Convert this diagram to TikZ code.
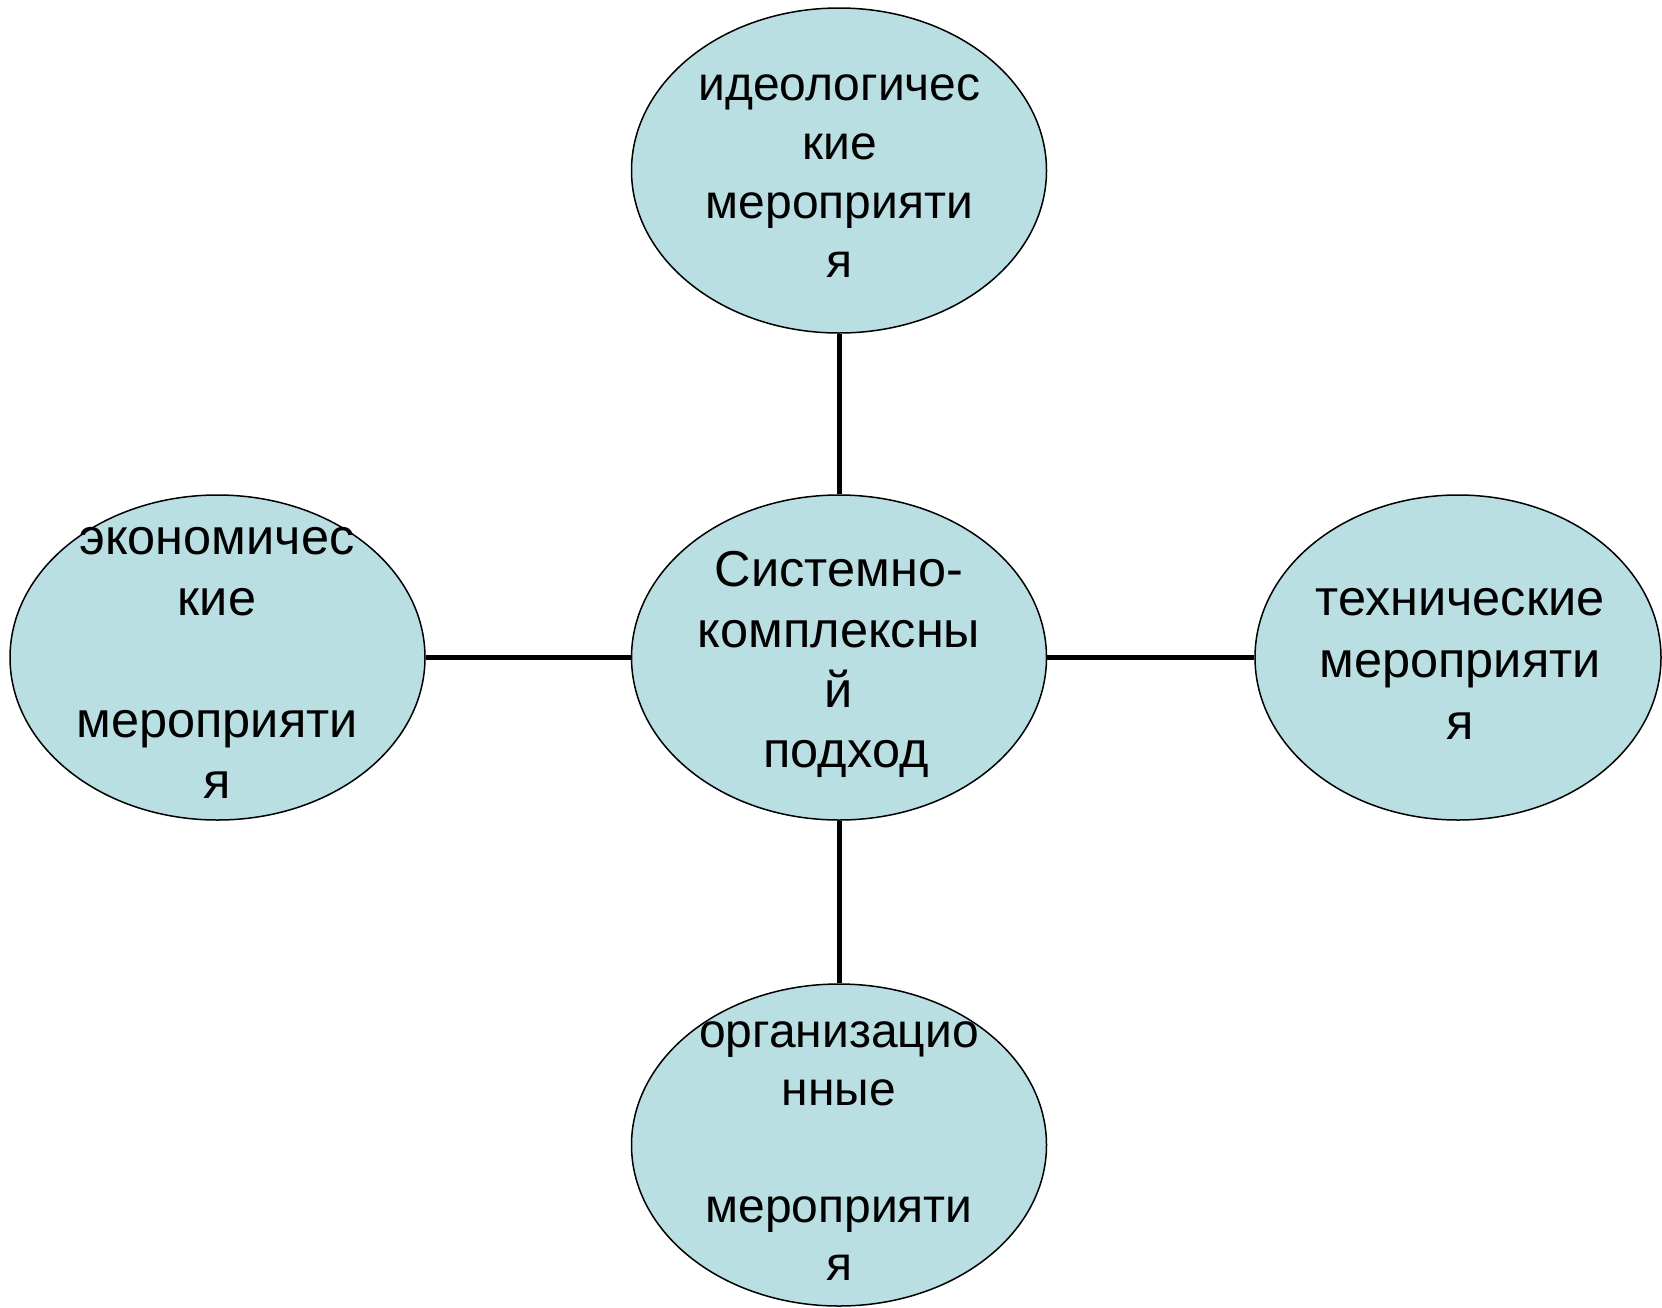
\documentclass[tikz,border=0pt]{standalone}
\usepackage{fontspec}
\setmainfont{Liberation Sans}
\definecolor{ellfill}{RGB}{185,223,227}
\tikzset{
  ell/.style={ellipse, draw=black, line width=1.5pt, fill=ellfill, inner sep=0pt,
              minimum width=415pt, minimum height=325pt},
  txt/.style={align=center, inner sep=0pt, anchor=north, text=black},
  link/.style={draw=black, line width=5pt}
}
\usetikzlibrary{shapes.geometric}
\begin{document}
\begin{tikzpicture}[x=1pt, y=-1pt]
\useasboundingbox (0,0) rectangle (1662,1307);
% ellipses
\node[ell] (eTop) at (839,170.5) {};
\node[ell] (eMid) at (839,657.5) {};
\node[ell] (eLeft) at (217.5,657.5) {};
\node[ell, minimum width=406pt] (eRight) at (1458,657.5) {};
\node[ell, minimum height=322pt] (eBot) at (839,1145) {};
% connectors
\draw[link] (eTop.south) -- (eMid.north);
\draw[link] (eMid.south) -- (eBot.north);
\draw[link] (eLeft.east) -- (eMid.west);
\draw[link] (eMid.east) -- (eRight.west);
% texts
\node[txt, font=\fontsize{48}{59}\selectfont] (tTop) at (839.5,58.7)
  {\strut идеологичес\\\strut кие\\\strut мероприяти\\\strut я};
\node[txt, font=\fontsize{50.5}{60.3}\selectfont] (tMid) at (839,544.5)
  {\strut Системно-\\\strut комплексны\\\strut й\\\strut\ подход};
\node[txt, font=\fontsize{50.5}{61}\selectfont] (tLeft) at (217,512)
  {\strut экономичес\\\strut кие\\\strut\\\strut мероприяти\\\strut я};
\node[txt, font=\fontsize{50.5}{61.7}\selectfont] (tRight) at (1460,572.5)
  {\strut технические\\\strut мероприяти\\\strut я};
\node[txt, font=\fontsize{48}{58.3}\selectfont] (tBot) at (839,1006.5)
  {\strut организацио\\\strut нные\\\strut\\\strut мероприяти\\\strut я};
\end{tikzpicture}
\end{document}
